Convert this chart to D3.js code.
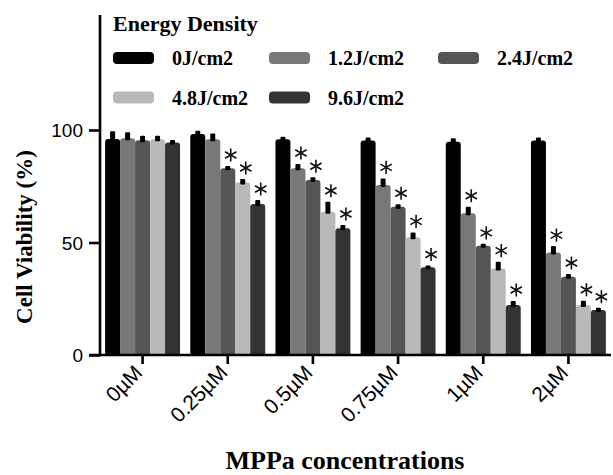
<!DOCTYPE html>
<html><head><meta charset="utf-8">
<script src="https://cdn.jsdelivr.net/npm/d3@7"></script>
<style>
html,body{margin:0;padding:0;background:#fff;}
svg{display:block;}
</style></head>
<body>
<svg id="chart" width="613" height="475"></svg>
<script>
// ---- data ----
const categories = ["0\u00b5M","0.25\u00b5M","0.5\u00b5M","0.75\u00b5M","1\u00b5M","2\u00b5M"];
const seriesNames = ["0J/cm2","1.2J/cm2","2.4J/cm2","4.8J/cm2","9.6J/cm2"];
const s0   = [96.0, 98.2, 95.9, 95.3, 94.8, 95.3];
const s1_2 = [96.3, 95.9, 83.0, 75.6, 63.0, 45.6];
const s2_4 = [95.5, 83.0, 77.8, 65.9, 48.6, 34.8];
const s4_8 = [95.9, 76.7, 63.7, 52.3, 38.5, 22.2];
const s9_6 = [94.4, 67.1, 56.3, 39.0, 22.2, 20.0];
const e0   = [3.5, 1.5, 1.1, 1.4, 1.5, 1.4];
const e1_2 = [2.7, 2.6, 1.9, 2.9, 2.9, 2.8];
const e2_4 = [2.0, 1.0, 1.2, 1.1, 0.8, 1.2];
const e4_8 = [1.6, 1.5, 4.4, 2.2, 3.0, 1.9];
const e9_6 = [1.2, 1.8, 1.5, 0.8, 1.8, 1.0];
// significance marks (1 = asterisk)
const sig0   = [0,0,0,0,0,0];
const sig1_2 = [0,0,1,1,1,1];
const sig2_4 = [0,1,1,1,1,1];
const sig4_8 = [0,1,1,1,1,1];
const sig9_6 = [0,1,1,1,1,1];
const yTicks = [0, 50, 100];
const legendTitle = "Energy Density";
const xTitle = "MPPa concentrations";
const yTitle = "Cell Viability (%)";

const values = [s0, s1_2, s2_4, s4_8, s9_6];
const errors = [e0, e1_2, e2_4, e4_8, e9_6];
const sigs = [sig0, sig1_2, sig2_4, sig4_8, sig9_6];
const colors = ["#000000", "#787878", "#555555", "#b9b9b9", "#333333"];

const svg = d3.select("#chart");
const serif = "'Liberation Serif','Times New Roman',serif";
const sans = "'Liberation Sans',Arial,sans-serif";

const x0 = d3.scaleBand().domain(categories).range([100, 611]).paddingInner(0.12).paddingOuter(0.06);
const x1 = d3.scaleBand().domain(seriesNames).range([0, x0.bandwidth()]);
const y = d3.scaleLinear().domain([0, 150]).range([355, 17.5]);

const data = [];
categories.forEach((c, i) => {
  seriesNames.forEach((s, j) => {
    data.push({cat: c, ser: s, j, v: values[j][i], e: errors[j][i], sig: sigs[j][i]});
  });
});

function barPath(xl, w, yt, yb, r) {
  r = Math.min(r, w / 2, (yb - yt));
  return `M${xl},${yb}V${yt + r}Q${xl},${yt} ${xl + r},${yt}H${xl + w - r}Q${xl + w},${yt} ${xl + w},${yt + r}V${yb}Z`;
}

const g = svg.append("g");
g.selectAll("path.bar").data(data).join("path")
  .attr("class", "bar")
  .attr("d", d => barPath(x0(d.cat) + x1(d.ser), x1.bandwidth(), y(d.v), y(0), 3))
  .attr("fill", d => colors[d.j]);

// error bars (upper)
g.selectAll("rect.err").data(data).join("rect")
  .attr("class", "err")
  .attr("x", d => x0(d.cat) + x1(d.ser) + x1.bandwidth() / 2 - 2.5)
  .attr("width", 5)
  .attr("y", d => y(d.v + d.e))
  .attr("height", d => y(d.v) - y(d.v + d.e) + 2)
  .attr("rx", 1)
  .attr("fill", "#000");

// asterisks
const star = d3.symbol().type(d3.symbolAsterisk).size(120);
g.selectAll("path.star").data(data.filter(d => d.sig)).join("path")
  .attr("class", "star")
  .attr("d", star)
  .attr("transform", d => `translate(${x0(d.cat) + x1(d.ser) + x1.bandwidth() / 2 + 3},${y(d.v + d.e) - 11})`)
  .attr("fill", "none")
  .attr("stroke", "#111")
  .attr("stroke-width", 1.6);

// axes
const axW = 2.6;
svg.append("line").attr("x1", 100).attr("x2", 100).attr("y1", y(0)).attr("y2", 15)
  .attr("stroke", "#000").attr("stroke-width", axW);
svg.append("line").attr("x1", 89).attr("x2", 611).attr("y1", y(0)).attr("y2", y(0))
  .attr("stroke", "#000").attr("stroke-width", axW);

const yAxis = svg.append("g").attr("transform", "translate(100,0)")
  .call(d3.axisLeft(y).tickValues(yTicks).tickSize(11).tickPadding(6).tickFormat(d3.format("d")));
yAxis.select(".domain").remove();
yAxis.selectAll(".tick line").attr("stroke", "#000").attr("stroke-width", axW);
yAxis.selectAll(".tick text").attr("font-family", sans).attr("font-size", 19).attr("fill", "#000").attr("dy", "0.36em");

const xAxis = svg.append("g").attr("transform", `translate(0,${y(0)})`)
  .call(d3.axisBottom(x0).tickSize(9).tickPadding(6));
xAxis.select(".domain").remove();
xAxis.selectAll(".tick line").attr("stroke", "#000").attr("stroke-width", axW);
xAxis.selectAll(".tick text")
  .attr("font-family", sans).attr("font-size", 21).attr("fill", "#000")
  .attr("text-anchor", "end")
  .attr("x", 0).attr("y", 0).attr("dy", null)
  .attr("transform", "translate(1,19) rotate(-45)");

// axis titles
svg.append("text").attr("x", 345).attr("y", 469).attr("text-anchor", "middle")
  .attr("font-family", serif).attr("font-weight", "bold").attr("font-size", 26).text(xTitle);
svg.append("text").attr("transform", "translate(32,237) rotate(-90)").attr("text-anchor", "middle")
  .attr("font-family", serif).attr("font-weight", "bold").attr("font-size", 23).text(yTitle);

// legend
svg.append("text").attr("x", 113).attr("y", 31)
  .attr("font-family", serif).attr("font-weight", "bold").attr("font-size", 22).text(legendTitle);
const legPos = [[113, 58], [269, 58], [438, 58], [113, 97.5], [269, 97.5]];
const leg = svg.append("g").selectAll("g").data(seriesNames).join("g")
  .attr("transform", (d, i) => `translate(${legPos[i][0]},${legPos[i][1]})`);
leg.append("rect").attr("x", 0).attr("y", -6).attr("width", 41).attr("height", 12).attr("rx", 4)
  .attr("fill", (d, i) => colors[i]);
leg.append("text").attr("x", 59).attr("y", 7)
  .attr("font-family", serif).attr("font-weight", "bold").attr("font-size", 20).text(d => d);
</script>
</body></html>
